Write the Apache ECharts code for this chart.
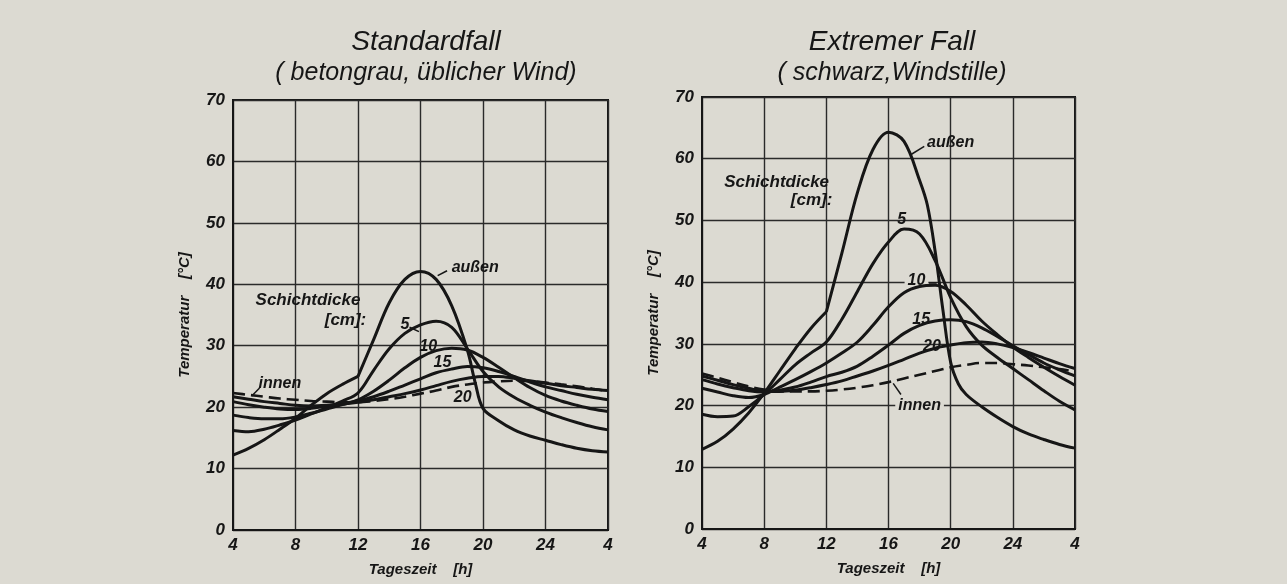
<!DOCTYPE html>
<html><head><meta charset="utf-8">
<script src="https://cdn.jsdelivr.net/npm/echarts@6/dist/echarts.min.js"></script>
<style>html,body{margin:0;padding:0;background:#dcdad2;} #c{width:1287px;height:584px;}</style>
</head><body><div id="c"></div>
<script>
// ---------- data ----------
const hours = [4,5,6,7,8,9,10,11,12,13,14,15,16,17,18,19,20,21,22,23,24,25,26,27,28];
const xTicks = [4,8,12,16,20,24,4];

// Standardfall (left) – "außen" has a kink at 12 h, so it is kept in two pieces
const hoursAussenL1 = [4,5,6,7,8,9,10,11,12];
const aussenL1 = [12.2,13.3,14.7,16.4,18.2,20.3,22.2,23.7,25];
const hoursAussenL2 = [12,13,14,15,16,17,18,19,19.5,20,21,22,23,24,25,26,27,28];
const aussenL2 = [25,31,37,40.8,42.1,40.8,36.5,29.3,24,19.8,17.8,16.3,15.3,14.6,13.9,13.3,12.9,12.7];
const s5L  = [16.2,16.0,16.4,17.1,17.9,18.9,19.9,21,22.3,26,29.5,32,33.4,34,33,29.5,25.8,23.3,21.6,20.3,19.2,18.3,17.5,16.8,16.3];
const s10L = [18.7,18.3,18.1,18.1,18.4,19.0,19.7,20.4,21.2,22.6,24.4,26.4,28.1,29.2,29.6,29.3,28.1,26.5,24.8,23.2,21.9,21,20.3,19.7,19.3];
const s15L = [20.9,20.4,20,19.7,19.6,19.8,20.2,20.6,21,21.7,22.6,23.6,24.6,25.6,26.2,26.6,26.4,25.8,25,24.1,23.3,22.7,22.1,21.6,21.2];
const s20L = [21.7,21.3,20.9,20.6,20.3,20.2,20.3,20.5,20.8,21.2,21.7,22.2,22.8,23.5,24.2,24.7,25,25,24.7,24.3,23.9,23.5,23.2,22.9,22.7];
const innenL = [22.3,22,21.7,21.4,21.2,21,20.9,20.8,20.8,21,21.3,21.7,22.2,22.7,23.3,23.7,24,24.2,24.3,24.2,24,23.7,23.4,23,22.6];

// Extremer Fall (right)
const hoursAussenR1 = [4,5,6,7,8,9,10,11,12];
const aussenR1 = [12.9,14.2,16.2,18.8,22,25.6,29.2,32.5,35.2];
const hoursAussenR2 = [12,13,14,15,16,17,18,18.5,19,19.5,20,20.5,21,22,23,24,25,26,27,28];
const aussenR2 = [35.2,44.7,54.5,61.5,64.3,62.8,56.5,52.5,45,35.5,27,23.5,21.8,19.8,18.1,16.6,15.4,14.5,13.7,13.1];
const s5R  = [18.6,18.2,18.3,19.8,21.8,24.2,26.6,28.5,30.3,34,38.5,43,46.5,48.6,47.8,43.5,37.5,32.8,29.8,27.8,26,24.2,22.4,20.7,19.3];
const s10R = [22.8,22.2,21.6,21.3,21.8,23,24.2,25.5,26.9,28.5,30.3,33,36,38.3,39.3,39.5,38.5,36.3,33.7,31.5,29.5,27.8,26.2,24.7,23.3];
const s15R = [24.2,23.5,22.9,22.4,22.2,22.5,23,23.8,24.7,25.4,26.4,28,29.8,31.7,33,33.7,33.9,33.6,32.6,31.2,29.7,28.3,26.9,25.8,24.8];
const s20R = [24.8,24.1,23.4,22.8,22.3,22.3,22.5,22.9,23.4,24,24.8,25.6,26.5,27.5,28.5,29.3,29.8,30.2,30.3,30,29.4,28.6,27.7,26.8,26];
const innenR = [25.2,24.5,23.8,23.1,22.6,22.3,22.3,22.3,22.4,22.6,22.9,23.3,23.8,24.4,25,25.6,26.2,26.6,26.9,26.9,26.7,26.5,26.2,25.9,25.5];

// ---------- layout / style ----------
const FONT = 'Liberation Sans';
const INK = '#161616';
const BG = '#dcdad2';

// annotation placement (data coordinates) : [x, y, text, fontSize, withBackground]
const notesL = [
  [19.5, 42.7, 'außen', 16, false],
  [8.8, 37.4, 'Schichtdicke', 17, false],
  [11.2, 34.2, '[cm]:', 17, false],
  [15.0, 33.5, '5', 16, false],
  [16.5, 29.9, '10', 16, false],
  [17.4, 27.2, '15', 16, false],
  [18.7, 21.6, '20', 16, false],
  [7.0, 23.9, 'innen', 16, false]
];
const leadersL = [[[17.1,41.4],[17.7,42.2]], [[15.3,33.0],[15.9,32.3]], [[5.2,21.8],[5.7,23.1]]];
const notesR = [
  [20.0, 62.6, 'außen', 16, false],
  [8.8, 56.2, 'Schichtdicke', 17, false],
  [11.05, 53.2, '[cm]:', 17, false],
  [16.85, 50.2, '5', 16, false],
  [17.8, 40.2, '10', 16, true],
  [18.1, 34.0, '15', 16, false],
  [18.8, 29.6, '20', 16, false],
  [18.0, 20.0, 'innen', 16, true]
];
const leadersR = [[[17.4,60.6],[18.3,62.0]], [[18.6,39.9],[19.1,39.9]], [[16.3,23.6],[16.8,21.8]]];

function pairs(xs, ys){ return xs.map((x,i)=>[x, ys[i]]); }

const txt = {fontFamily: FONT, fontStyle:'italic', color: INK};

function xAxis(g){
  return {type:'value', gridIndex:g, min:4, max:28, interval:4,
    axisLine:{show:true, lineStyle:{color:INK, width:2}}, axisTick:{show:false},
    splitLine:{show:true, lineStyle:{color:'#2a2a2a', width:1.4}},
    axisLabel:Object.assign({fontSize:17, fontWeight:'bold', margin:7,
      formatter: v => String(xTicks[(v-4)/4])}, txt),
    name:'Tageszeit    [h]', nameLocation:'middle', nameGap:32,
    nameTextStyle:Object.assign({fontSize:15, fontWeight:'bold'}, txt)};
}
function yAxis(g){
  return {type:'value', gridIndex:g, min:0, max:70, interval:10,
    axisLine:{show:true, lineStyle:{color:INK, width:2}}, axisTick:{show:false},
    splitLine:{show:true, lineStyle:{color:'#2a2a2a', width:1.4}},
    axisLabel:Object.assign({fontSize:17, fontWeight:'bold', margin:8}, txt),
    name:'Temperatur    [°C]', nameLocation:'middle', nameGap:41, nameRotate:90,
    nameTextStyle:Object.assign({fontSize:15, fontWeight:'bold'}, txt)};
}
function curve(g, name, data, dashed){
  return {type:'line', name, xAxisIndex:g, yAxisIndex:g, data, showSymbol:false, smooth:0.35,
    lineStyle:{color:INK, width: dashed?2.6:3, type: dashed?[12,6]:'solid'}, z:3, silent:true};
}
function notes(g, arr, leaders){
  return {type:'scatter', xAxisIndex:g, yAxisIndex:g, symbolSize:0, z:2, silent:true,
    itemStyle:{opacity:1},
    data: arr.map(a => ({value:[a[0], a[1]], name:a[2],
      label:{show:true, position:'inside', formatter:a[2], fontSize:a[3], fontWeight:'bold',
        fontFamily:FONT, fontStyle:'italic', color:INK, opacity:1,
        backgroundColor: a[4]?BG:'transparent', padding: a[4]?[0,3]:0}})),
    markLine:{silent:true, symbol:'none', label:{show:false},
      lineStyle:{color:INK, width:1.5, type:'solid', opacity:1},
      data: leaders.map(l => [{coord:l[0]},{coord:l[1]}])}};
}
function title(x, l1, l2){
  return {text:'{a|'+l1+'}\n{b|'+l2+'}', left:x, top:22, textAlign:'center',
    textStyle:{fontWeight:'normal', rich:{
      a:Object.assign({fontSize:28, lineHeight:31, fontWeight:'normal'}, txt),
      b:Object.assign({fontSize:25, lineHeight:31, fontWeight:'normal'}, txt)}}};
}

const chart = echarts.init(document.getElementById('c'));
chart.setOption({
  backgroundColor: BG,
  animation:false,
  title:[
    title(421, 'Standardfall', '( betongrau, üblicher Wind)'),
    title(887, 'Extremer Fall', '( schwarz,Windstille)')
  ],
  grid:[
    {left:233, right:679, top:100, bottom:54, show:true, borderColor:INK, borderWidth:2, backgroundColor:'transparent'},
    {left:702, right:212, top:97, bottom:55, show:true, borderColor:INK, borderWidth:2, backgroundColor:'transparent'}
  ],
  xAxis:[xAxis(0), xAxis(1)],
  yAxis:[yAxis(0), yAxis(1)],
  series:[
    curve(0,'außen',pairs(hoursAussenL1, aussenL1)),
    curve(0,'außen',pairs(hoursAussenL2, aussenL2)),
    curve(0,'5',pairs(hours, s5L)),
    curve(0,'10',pairs(hours, s10L)),
    curve(0,'15',pairs(hours, s15L)),
    curve(0,'20',pairs(hours, s20L)),
    curve(0,'innen',pairs(hours, innenL), true),
    notes(0, notesL, leadersL),
    curve(1,'außen',pairs(hoursAussenR1, aussenR1)),
    curve(1,'außen',pairs(hoursAussenR2, aussenR2)),
    curve(1,'5',pairs(hours, s5R)),
    curve(1,'10',pairs(hours, s10R)),
    curve(1,'15',pairs(hours, s15R)),
    curve(1,'20',pairs(hours, s20R)),
    curve(1,'innen',pairs(hours, innenR), true),
    notes(1, notesR, leadersR)
  ]
});
</script></body></html>
